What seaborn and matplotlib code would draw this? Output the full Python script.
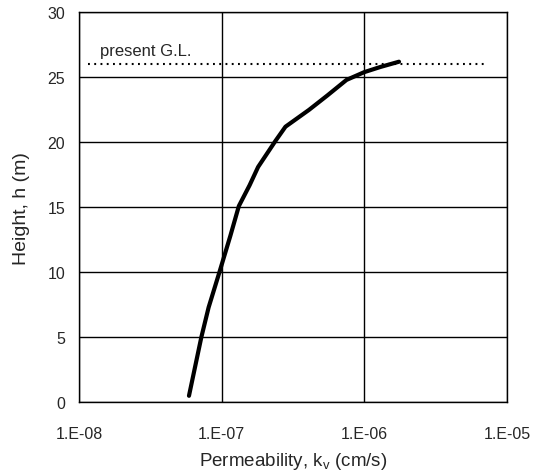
import numpy as np
import pandas as pd
import matplotlib
matplotlib.use("Agg")
import matplotlib.pyplot as plt
import seaborn as sns

# permeability profile
perm = [5.9e-8, 7.2e-8, 8.1e-8, 9.7e-8, 1.15e-7, 1.32e-7, 1.57e-7, 1.8e-7,
        2.38e-7, 2.8e-7, 4.1e-7, 5.5e-7, 7.5e-7, 1.0e-6, 1.3e-6, 1.75e-6]
height = [0.5, 5.0, 7.3, 10.1, 12.8, 15.1, 16.7, 18.1,
          20.1, 21.2, 22.5, 23.6, 24.8, 25.4, 25.8, 26.2]

# present ground level
gl_x = [1.15e-8, 7.1e-6]
gl_h = [26.0, 26.0]

xticks = [1e-8, 1e-7, 1e-6, 1e-5]
xtick_labels = ["1.E-08", "1.E-07", "1.E-06", "1.E-05"]
yticks = [0, 5, 10, 15, 20, 25, 30]

sns.set_style("white")
plt.rcParams['font.family'] = ['Liberation Sans', 'DejaVu Sans']

fig = plt.figure(figsize=(5.4, 4.77), dpi=100)
ax = fig.add_axes([0.1463, 0.1545, 0.7926, 0.8176])

df = pd.DataFrame({"k": perm, "h": height})
sns.lineplot(data=df, x="k", y="h", sort=False, color="black", linewidth=3.0, ax=ax)
ax.plot(gl_x, gl_h, color="black", linestyle=(0, (0.9, 2.1)), linewidth=1.5)
ax.text(1.4e-8, 27.1, "present G.L.", fontsize=12, va="center", ha="left")

ax.set_xscale("log")
ax.set_xlim(1e-8, 1e-5)
ax.set_ylim(0, 30)
ax.set_xticks(xticks)
ax.set_xticklabels(xtick_labels)
ax.set_yticks(yticks)
ax.minorticks_off()
ax.tick_params(axis="x", length=0, labelsize=11.5, pad=17)
ax.tick_params(axis="y", length=0, labelsize=11.5, pad=10)
ax.grid(True, color="black", linewidth=1.0)
for s in ax.spines.values():
    s.set_color("black")
    s.set_linewidth(1.0)

ax.set_xlabel("Permeability, k$_\\mathregular{v}$ (cm/s)", fontsize=13.5)
ax.set_ylabel("Height, h (m)", fontsize=14)
ax.xaxis.set_label_coords(0.5, -0.148)
ax.yaxis.set_label_coords(-0.1355, 0.5)
ax.xaxis.label.set_va("center")
ax.yaxis.label.set_va("center")

fig.savefig("out.png", dpi=100)
